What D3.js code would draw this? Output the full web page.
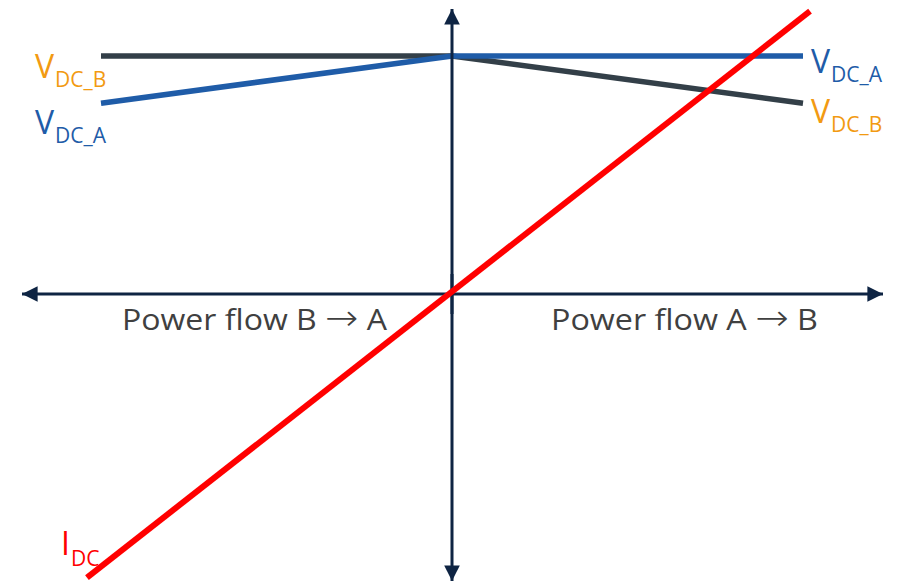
<!DOCTYPE html>
<html>
<head>
<meta charset="utf-8">
<script src="https://cdn.jsdelivr.net/npm/d3@7"></script>
<style>
html,body{margin:0;padding:0;background:#fff;}
svg{display:block;}
</style>
</head>
<body>
<svg id="chart" width="910" height="581"></svg>
<script>
// Data (schematic units: x = power flow, y = normalized quantity)
const powerFlow = [-1, 0, 1];
const vdcA = [0.8, 1.0, 1.0];
const vdcB = [1.0, 1.0, 0.8];
const idcX = [-1.04, 1.02];
const idcY = [-1.21, 1.19];
const flowLabels = [["Power flow B ", "\u2192", " A"], ["Power flow A ", "\u2192", " B"]];

const svg = d3.select("#chart");
const x = d3.scaleLinear().domain([-1, 1]).range([101, 803]);
const y = d3.scaleLinear().domain([0, 1]).range([292, 56]);

const line = d3.line().x(d => x(d[0])).y(d => y(d[1]));
const colA = "#1f5ca8", colB = "#333f48", colOr = "#f29a12", colAxis = "#0e2443", colRed = "#ff0000";

const defs = svg.append("defs");
defs.append("marker").attr("id", "arr").attr("viewBox", "0 0 10 10")
  .attr("refX", 10).attr("refY", 5).attr("markerWidth", 5.2).attr("markerHeight", 5.2)
  .attr("markerUnits", "strokeWidth").attr("orient", "auto")
  .append("path").attr("d", "M0,0 L10,5 L0,10 Z").attr("fill", colAxis);

// VDC_B (dark)
svg.append("path").datum(powerFlow.map((p, i) => [p, vdcB[i]]))
  .attr("d", line).attr("fill", "none").attr("stroke", colB).attr("stroke-width", 5.5);
// VDC_A (blue)
svg.append("path").datum(powerFlow.map((p, i) => [p, vdcA[i]]))
  .attr("d", line).attr("fill", "none").attr("stroke", colA).attr("stroke-width", 5.5);

// Axes
const x0 = x(0), y0 = y(0) + 2;
svg.append("line").attr("x1", x0 - 20).attr("x2", 22).attr("y1", y0).attr("y2", y0)
  .attr("stroke", colAxis).attr("stroke-width", 3).attr("marker-end", "url(#arr)");
svg.append("line").attr("x1", x0 - 20).attr("x2", 883).attr("y1", y0).attr("y2", y0)
  .attr("stroke", colAxis).attr("stroke-width", 3).attr("marker-end", "url(#arr)");
svg.append("line").attr("x1", x0).attr("x2", x0).attr("y1", y0 + 20).attr("y2", 9)
  .attr("stroke", colAxis).attr("stroke-width", 3).attr("marker-end", "url(#arr)");
svg.append("line").attr("x1", x0).attr("x2", x0).attr("y1", y0 - 20).attr("y2", 581)
  .attr("stroke", colAxis).attr("stroke-width", 3).attr("marker-end", "url(#arr)");

// IDC (red)
svg.append("path").datum(idcX.map((v, i) => [v, idcY[i]]))
  .attr("d", line).attr("fill", "none").attr("stroke", colRed).attr("stroke-width", 6);

// Labels
const font = "'Open Sans', sans-serif";
function sublabel(px, py, main, sub, color, mainSize, subSize, dy) {
  const t = svg.append("text").attr("x", px).attr("y", py)
    .attr("font-family", font).attr("fill", color);
  t.append("tspan").attr("font-size", mainSize).text(main);
  t.append("tspan").attr("font-size", subSize).attr("dy", dy).attr("dx", 1).text(sub);
}
sublabel(35, 78, "V", "DC_B", colOr, 32, 21, 9);
sublabel(35, 134, "V", "DC_A", colA, 32, 21, 9);
sublabel(811, 73, "V", "DC_A", colA, 32, 21, 9);
sublabel(811, 123, "V", "DC_B", colOr, 32, 21, 9);
sublabel(61, 555, "I", "DC", colRed, 32, 21, 11);

function flowLabel(px, parts, len) {
  const t = svg.append("text").attr("x", px).attr("y", 330).attr("font-family", font)
    .attr("font-size", 29).attr("fill", "#404040").attr("textLength", len)
    .attr("lengthAdjust", "spacingAndGlyphs");
  t.append("tspan").text(parts[0]);
  t.append("tspan").attr("font-family", "'DejaVu Sans'").attr("font-weight", 200)
    .attr("font-size", 36).text(parts[1]);
  t.append("tspan").text(parts[2]);
}
flowLabel(122, flowLabels[0], 265);
flowLabel(551, flowLabels[1], 267);
</script>
</body>
</html>
